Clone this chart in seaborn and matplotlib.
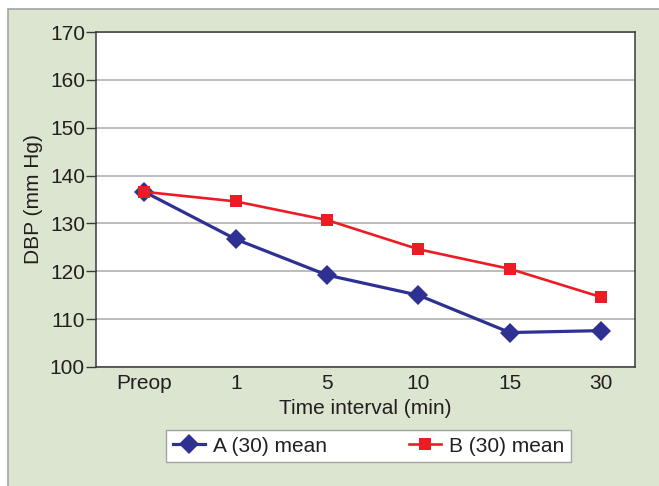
import matplotlib
matplotlib.use("Agg")
import matplotlib.pyplot as plt
from matplotlib.patches import Rectangle
from matplotlib.lines import Line2D
import seaborn as sns
import pandas as pd

categories = ["Preop", "1", "5", "10", "15", "30"]
series_a = [136.6, 126.7, 119.2, 115.0, 107.2, 107.6]
series_b = [136.6, 134.6, 130.7, 124.6, 120.5, 114.6]
name_a = "A (30) mean"
name_b = "B (30) mean"
y_ticks = [100, 110, 120, 130, 140, 150, 160, 170]

plt.rcParams['font.family'] = ['Liberation Sans', 'DejaVu Sans']
TXT = '#231f20'
FS = 15

df = pd.DataFrame({
    "time": categories * 2,
    "pos": list(range(len(categories))) * 2,
    "value": series_a + series_b,
    "group": [name_a] * len(categories) + [name_b] * len(categories),
})

fig = plt.figure(figsize=(6.59, 4.86), dpi=100, facecolor='white')
W, H = 659, 486
bg = Rectangle((8 / W, -0.05), 1.1, 1 - 9 / H + 0.05,
               transform=fig.transFigure, facecolor='#dce5d0',
               edgecolor='#a3a3a3', linewidth=1.2, zorder=-10)
fig.patches.append(bg)

ax = fig.add_axes([96 / W, 1 - 367 / H, (635 - 96) / W, (367 - 32) / H])
ax.set_zorder(1)
ax.set_facecolor('white')

palette = {name_a: '#2e3192', name_b: '#ed1c24'}
markers = {name_a: 'D', name_b: 's'}
sns.lineplot(data=df, x="pos", y="value", hue="group", style="group",
             palette=palette, markers=markers, dashes=False, sort=False,
             ax=ax, legend=False, linewidth=2.0, markersize=9,
             markeredgewidth=0)
for ln in ax.lines:
    if ln.get_color() == '#2e3192':
        ln.set_linewidth(2.3)
        ln.set_markersize(9.8)
    else:
        ln.set_linewidth(1.9)
        ln.set_markersize(9.3)
        ln.set_zorder(3)

ax.set_xlim(-0.53, 5.37)
ax.set_ylim(100, 170)
ax.set_yticks(y_ticks)
ax.set_yticklabels([str(t) for t in y_ticks])
ax.set_xticks(range(len(categories)))
ax.set_xticklabels(categories)
ax.grid(axis='y', color='#b8b8b8', linewidth=1.3)
ax.grid(axis='x', visible=False)
ax.set_axisbelow(True)
for s in ax.spines.values():
    s.set_color('#3a3a3a')
    s.set_linewidth(1.1)
ax.tick_params(axis='y', length=7, width=1.0, color='#3a3a3a', pad=1,
               labelsize=FS, labelcolor=TXT)
ax.tick_params(axis='x', length=0, pad=5, labelsize=FS, labelcolor=TXT)
ax.set_xlabel("Time interval (min)", fontsize=FS, color=TXT, labelpad=4)
ax.set_ylabel("DBP (mm Hg)", fontsize=FS, color=TXT, labelpad=5)

handles = [
    Line2D([], [], color='#2e3192', marker='D', linewidth=2.3, markersize=9.8,
           markeredgewidth=0),
    Line2D([], [], color='#ed1c24', marker='s', linewidth=1.9, markersize=9.3,
           markeredgewidth=0),
]
leg = fig.legend(handles, [name_a, name_b], loc='center',
                 bbox_to_anchor=((163 + 574) / 2 / W, 1 - 446 / H),
                 ncol=2, fontsize=FS, frameon=True, fancybox=False,
                 framealpha=1.0,
                 handlelength=1.55, handletextpad=0.4, columnspacing=3.9,
                 borderpad=0.3, labelcolor=TXT)
leg.get_frame().set_edgecolor('#a3a3a3')
leg.get_frame().set_linewidth(1.0)
leg.get_frame().set_facecolor('white')

fig.savefig("out.png", dpi=100, facecolor=fig.get_facecolor())
